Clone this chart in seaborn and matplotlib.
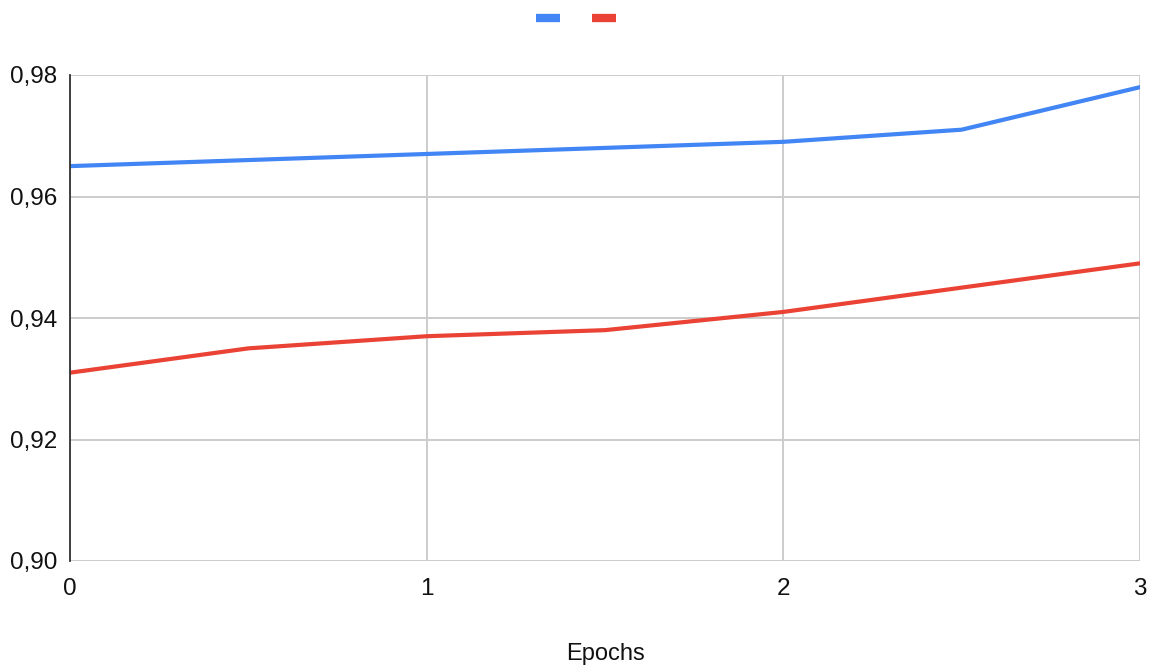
import matplotlib
matplotlib.use("Agg")
import matplotlib.pyplot as plt
from matplotlib.lines import Line2D
from matplotlib.ticker import FuncFormatter
import seaborn as sns
import pandas as pd

# Accuracy per half epoch for the two runs
epochs = [0, 0.5, 1, 1.5, 2, 2.5, 3]
train_acc = [0.965, 0.966, 0.967, 0.968, 0.969, 0.971, 0.978]
val_acc = [0.931, 0.935, 0.937, 0.938, 0.941, 0.945, 0.949]
series_names = ["train", "val"]
colors = ["#4285f4", "#ea4335"]
y_ticks = [0.90, 0.92, 0.94, 0.96, 0.98]
x_ticks = [0, 1, 2, 3]

df = pd.DataFrame({
    "Epochs": epochs * 2,
    "value": train_acc + val_acc,
    "series": [series_names[0]] * len(epochs) + [series_names[1]] * len(epochs),
})

sns.set_theme(style="white")
plt.rcParams["font.family"] = ["Liberation Sans", "DejaVu Sans"]

fig = plt.figure(figsize=(11.5, 6.66), dpi=100)
ax = fig.add_axes([70 / 1150, 1 - 561 / 666, 1070 / 1150, 486 / 666])

sns.lineplot(data=df, x="Epochs", y="value", hue="series", palette=colors,
             linewidth=3.0, ax=ax, legend=False, zorder=3)

ax.set_xlim(0, 3)
ax.set_ylim(0.90, 0.98)
ax.set_xticks(x_ticks)
ax.set_yticks(y_ticks)
ax.yaxis.set_major_formatter(FuncFormatter(lambda v, _: f"{v:.2f}".replace(".", ",")))
ax.xaxis.set_major_formatter(FuncFormatter(lambda v, _: f"{v:g}"))
ax.grid(True, color="#cccccc", linewidth=1.4, zorder=0)
ax.tick_params(axis="both", length=0, labelsize=17.5, colors="#111111")
ax.tick_params(axis="y", pad=9)
ax.tick_params(axis="x", pad=12)
for side in ["top", "right", "bottom"]:
    ax.spines[side].set_visible(False)
ax.spines["left"].set_color("#333333")
ax.spines["left"].set_linewidth(1.3)
ax.spines["left"].set_zorder(4)
ax.set_ylabel("")
ax.set_xlabel("Epochs", fontsize=17, color="#111111", labelpad=31)

handles = [Line2D([0], [0], color=c, linewidth=6, solid_capstyle="butt") for c in colors]
fig.legend(handles, ["", ""], loc="center", bbox_to_anchor=(576 / 1150, 1 - 20 / 666),
           ncol=2, frameon=False, handlelength=1.25, handletextpad=0,
           columnspacing=1.6, fontsize=14)

fig.savefig("out.png", dpi=100, facecolor="white")
